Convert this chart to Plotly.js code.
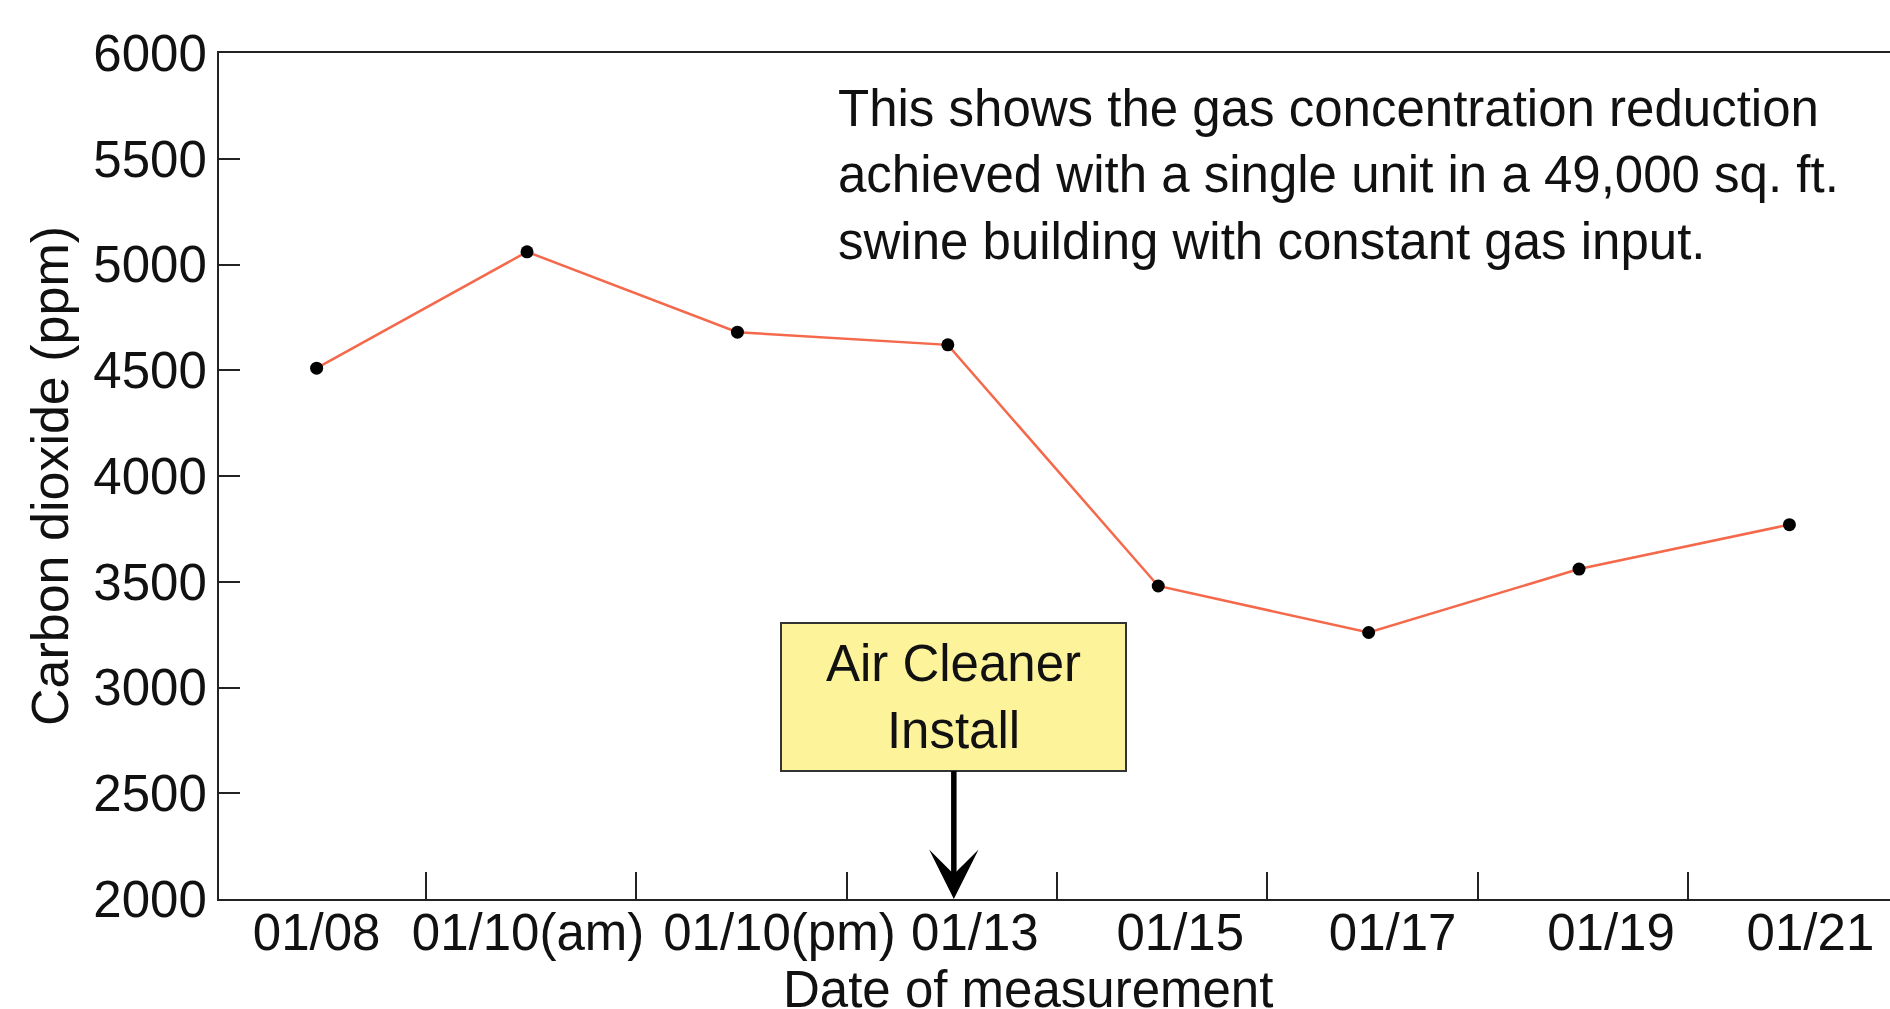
<!DOCTYPE html>
<html>
<head>
<meta charset="utf-8">
<script src="https://cdn.plot.ly/plotly-3.0.1.min.js"></script>
<style>
  html, body { margin: 0; padding: 0; background: #ffffff; overflow: hidden; }
  #chart { width: 1890px; height: 1009px; }
</style>
</head>
<body>
<div id="chart"></div>
<script>
// ---------------- data ----------------
const dates = ["01/08", "01/10(am)", "01/10(pm)", "01/13", "01/15", "01/17", "01/19", "01/21"];
const co2ppm = [4510, 5060, 4680, 4620, 3480, 3260, 3560, 3770];
const yTickValues = [2000, 2500, 3000, 3500, 4000, 4500, 5000, 5500, 6000];
const xTitle = "Date of measurement";
const yTitle = "Carbon dioxide (ppm)";
const noteLines = [
  "This shows the gas concentration reduction",
  "achieved with a single unit in a 49,000 sq. ft.",
  "swine building with constant gas input."
];
const installLines = ["Air Cleaner", "Install"];
const installIndex = 3;          // measurement "01/13"

// ---------------- layout helpers ----------------
const W = 1890, H = 1009;
const M = { l: 219, r: 0, t: 53, b: 110 };
const xRange = [-0.464, 7.478];
const yRange = [2000, 6000];
const plotW = W - M.l - M.r;
const plotH = H - M.t - M.b;
const pxPerUnit = plotW / (xRange[1] - xRange[0]);
const labelNudgePx = [0, 1, 42, 27, 22, 24, 32, 21];   // tick labels spread apart as in the source
const idx = dates.map((_, i) => i);
const labelPos = idx.map(i => i + labelNudgePx[i] / pxPerUnit);
const boundaries = idx.slice(1).map(i => i - 0.5 + 4 / pxPerUnit);
const FONT = "Liberation Sans, Arial, Helvetica, sans-serif";
const INK = "#111111";

const trace = {
  type: "scatter",
  mode: "lines+markers",
  x: idx,
  y: co2ppm,
  text: dates,
  hovertemplate: "%{text}: %{y} ppm<extra></extra>",
  line: { color: "#f4694b", width: 2.5 },
  marker: { color: "#000000", size: 13 },
  showlegend: false
};

const layout = {
  width: W, height: H,
  margin: M,
  paper_bgcolor: "#ffffff",
  plot_bgcolor: "#ffffff",
  font: { family: FONT, size: 51, color: INK },
  showlegend: false,
  xaxis: {
    range: xRange,
    showgrid: false, zeroline: false,
    showline: true, linecolor: "#222222", linewidth: 2, mirror: true,
    tickmode: "array", tickvals: labelPos, ticktext: dates,
    ticks: "", tickangle: 0,
    ticklabelstandoff: -12,
    tickfont: { family: FONT, size: 51, color: INK },
    minor: {
      tickmode: "array", tickvals: boundaries,
      ticks: "inside", ticklen: 27, tickwidth: 2, tickcolor: "#222222",
      showgrid: false
    },
    automargin: false,
    fixedrange: true
  },
  yaxis: {
    range: yRange,
    showgrid: false, zeroline: false,
    showline: true, linecolor: "#222222", linewidth: 2, mirror: false,
    tickmode: "array", tickvals: yTickValues,
    ticks: "inside", ticklen: 21, tickwidth: 2, tickcolor: "#222222",
    tickfont: { family: FONT, size: 51, color: INK },
    automargin: false,
    fixedrange: true,
    title: { text: yTitle, font: { family: FONT, size: 52, color: INK }, standoff: 8 }
  },
  annotations: [
    {
      // x-axis title, placed as in the source (slightly left of the plot centre, at the bottom edge)
      xref: "paper", yref: "paper",
      x: (1028 - M.l) / plotW,
      y: -(959 - (H - M.b)) / plotH,
      xanchor: "center", yanchor: "top",
      showarrow: false,
      text: xTitle,
      font: { family: FONT, size: 51, color: INK }
    },
    {
      xref: "paper", yref: "paper",
      x: (836 - M.l) / plotW,
      y: (H - M.b - 175) / plotH,
      xanchor: "left", yanchor: "middle", align: "left",
      showarrow: false,
      text: noteLines.join("<br>"),
      font: { family: FONT, size: 51, color: INK }
    },
    {
      xref: "x", yref: "y",
      x: installIndex + 6 / pxPerUnit,
      y: yRange[0],
      axref: "pixel", ayref: "pixel",
      ax: 0, ay: -202,
      showarrow: true,
      arrowhead: 3, arrowsize: 1.5, arrowwidth: 5.5, arrowcolor: "#000000",
      standoff: 0,
      text: installLines.join("<br>"),
      align: "center", valign: "middle",
      width: 343, height: 146,
      bgcolor: "#fcf39b", bordercolor: "#333333", borderwidth: 2, borderpad: 0,
      font: { family: FONT, size: 51, color: INK }
    }
  ]
};

Plotly.newPlot("chart", [trace], layout, { displayModeBar: false, responsive: false });
</script>
</body>
</html>
